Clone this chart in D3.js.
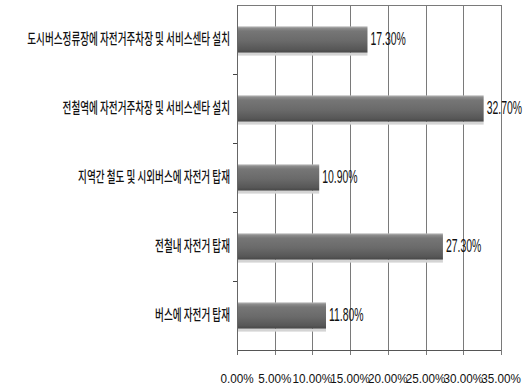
<!DOCTYPE html>
<html>
<head>
<meta charset="utf-8">
<script src="https://cdn.jsdelivr.net/npm/d3@7"></script>
<style>
  html, body { margin: 0; padding: 0; background: #fff; }
  svg { display: block; }
</style>
</head>
<body>
<svg id="chart" width="528" height="387"></svg>
<script>
// Survey categories (top to bottom) and their shares in percent
const categories = [
  "도시버스정류장에 자전거주차장 및 서비스센타 설치",
  "전철역에 자전거주차장 및 서비스센타 설치",
  "지역간 철도 및 시외버스에 자전거 탑재",
  "전철내 자전거 탑재",
  "버스에 자전거 탑재"
];
const values = [17.3, 32.7, 10.9, 27.3, 11.8];
const tickValues = [0, 5, 10, 15, 20, 25, 30, 35];
const tickLabels = ["0.00%", "5.00%", "10.00%", "15.00%", "20.00%", "25.00%", "30.00%", "35.00%"];

const svg = d3.select("#chart");
const plot = { left: 237, right: 501, top: 5, bottom: 350 };

const x = d3.scaleLinear().domain([0, 35]).range([plot.left, plot.right]);
const y = d3.scaleBand()
  .domain(categories)
  .range([plot.top, plot.bottom])
  .paddingInner(0.62)
  .paddingOuter(0.31);

// Bar fill: glossy vertical gray gradient
const defs = svg.append("defs");
const grad = defs.append("linearGradient")
  .attr("id", "barGrad").attr("x1", 0).attr("y1", 0).attr("x2", 0).attr("y2", 1);
[
  [0, "#b8b8b8"], [0.08, "#8a8a8a"], [0.18, "#767676"],
  [0.55, "#6a6a6a"], [0.88, "#575757"], [1, "#474747"]
].forEach(([o, c]) => grad.append("stop").attr("offset", o).attr("stop-color", c));

// Vertical gridlines, extending a little below the axis as ticks
const grid = svg.append("g")
  .attr("transform", `translate(0,${plot.bottom + 5})`)
  .call(d3.axisBottom(x).tickValues(tickValues).tickSize(-(plot.bottom - plot.top + 5)).tickFormat(""));
grid.select(".domain").remove();
grid.selectAll("line").attr("stroke", "#7a7a7a").attr("stroke-width", 1).attr("shape-rendering", "crispEdges");

// Frame: top edge, left axis and bottom axis lines
svg.append("line").attr("x1", plot.left).attr("x2", plot.right).attr("y1", plot.top).attr("y2", plot.top)
  .attr("stroke", "#7a7a7a").attr("shape-rendering", "crispEdges");
svg.append("line").attr("x1", plot.left).attr("x2", plot.right).attr("y1", plot.bottom).attr("y2", plot.bottom)
  .attr("stroke", "#555").attr("shape-rendering", "crispEdges");
svg.append("line").attr("x1", plot.left).attr("x2", plot.left).attr("y1", plot.top).attr("y2", plot.bottom + 5)
  .attr("stroke", "#666").attr("shape-rendering", "crispEdges");

// Category boundary ticks on the left axis
const step = y.step();
const boundaries = d3.range(1, categories.length).map(i => plot.top + i * step);
svg.append("g").selectAll("line").data(boundaries).join("line")
  .attr("x1", plot.left - 4).attr("x2", plot.left)
  .attr("y1", d => d).attr("y2", d => d)
  .attr("stroke", "#444").attr("shape-rendering", "crispEdges");

// Bars with a pale reflection strip under each
const bars = svg.append("g");
bars.selectAll("rect.shade").data(values).join("rect")
  .attr("class", "shade")
  .attr("x", x(0) + 1)
  .attr("y", (d, i) => y(categories[i]) + y.bandwidth())
  .attr("width", d => x(d) - x(0) - 1)
  .attr("height", 3)
  .attr("fill", "#d4d4d4");
bars.selectAll("rect.bar").data(values).join("rect")
  .attr("class", "bar")
  .attr("x", x(0) + 1)
  .attr("y", (d, i) => y(categories[i]))
  .attr("width", d => x(d) - x(0) - 1)
  .attr("height", y.bandwidth())
  .attr("fill", "url(#barGrad)");

// Category labels (condensed)
svg.append("g").selectAll("g").data(categories).join("g")
  .attr("transform", d => `translate(230,${y(d) + y.bandwidth() / 2 - 2}) scale(0.64,1)`)
  .append("text")
  .attr("text-anchor", "end")
  .attr("dominant-baseline", "central")
  .attr("font-family", "'Noto Sans CJK KR', 'Noto Sans', sans-serif")
  .attr("font-size", 15)
  .attr("font-weight", 500)
  .attr("fill", "#111")
  .text(d => d);

// Value labels at bar ends
svg.append("g").selectAll("g").data(values).join("g")
  .attr("transform", (d, i) => `translate(${x(d) + 3},${y(categories[i]) + y.bandwidth() / 2 + 5}) scale(0.58,1)`)
  .append("text")
  .attr("font-family", "'Liberation Sans', Arial, sans-serif")
  .attr("font-size", 18)
  .attr("fill", "#111")
  .text(d => d.toFixed(2) + "%");

// Bottom tick labels
svg.append("g").selectAll("g").data(tickValues).join("g")
  .attr("transform", d => `translate(${x(d)},383) scale(0.9,1)`)
  .append("text")
  .attr("text-anchor", "middle")
  .attr("font-family", "'Liberation Sans', Arial, sans-serif")
  .attr("font-size", 13)
  .attr("fill", "#111")
  .text((d, i) => tickLabels[i]);
</script>
</body>
</html>
